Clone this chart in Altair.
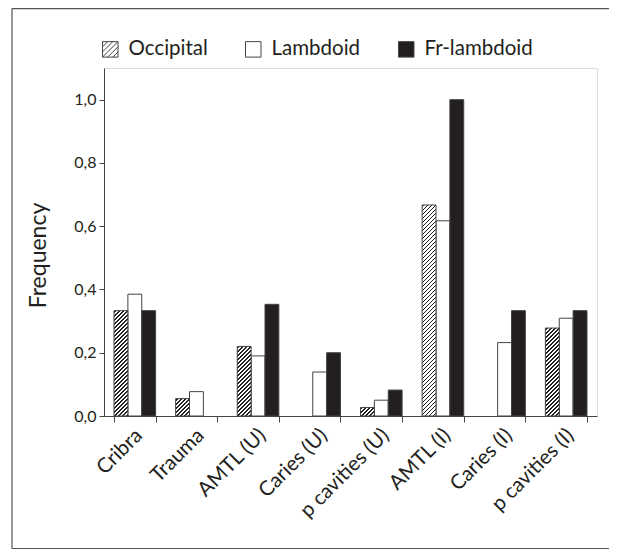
import altair as alt
import pandas as pd

categories = ["Cribra", "Trauma", "AMTL (U)", "Caries (U)", "p cavities (U)",
              "AMTL (I)", "Caries (I)", "p cavities (I)"]
series_names = ["Occipital", "Lambdoid", "Fr-lambdoid"]
occipital = [0.333, 0.055, 0.220, 0.0, 0.027, 0.667, 0.0, 0.278]
lambdoid = [0.385, 0.077, 0.190, 0.139, 0.050, 0.617, 0.232, 0.309]
fr_lambdoid = [0.333, 0.0, 0.353, 0.200, 0.082, 1.000, 0.333, 0.333]
y_ticks = [0.0, 0.2, 0.4, 0.6, 0.8, 1.0]

rows = []
for name, vals in zip(series_names, [occipital, lambdoid, fr_lambdoid]):
    for c, v in zip(categories, vals):
        rows.append({"cat": c, "series": name, "value": v})
df = pd.DataFrame(rows)

W, H = 493, 348
YMAX = 1.1
FONT = "Lato"
INK = "#231f20"
EDGE = "#444444"
P_IN = 0.325
BAR_W = W / len(categories) * (1 - P_IN) / 3


def hatch_gradient(value):
    """Diagonal '////' hatching for one bar, as a linear gradient in its box."""
    w = BAR_W
    h = value / YMAX * H
    L = w + h
    d2 = w * w + h * h
    period, dark = 4.0, 1.8
    stops = [{"offset": 0, "color": "white"}]
    s = 1.0
    while s < L:
        a = s / L
        b = min(1, (s + dark) / L)
        stops.append({"offset": a, "color": "white"})
        stops.append({"offset": a, "color": "#222222"})
        stops.append({"offset": b, "color": "#222222"})
        stops.append({"offset": b, "color": "white"})
        s += period
    stops.append({"offset": 1, "color": "white"})
    return {"gradient": "linear", "x1": 0, "y1": 0,
            "x2": w * L / d2, "y2": h * L / d2, "stops": stops}


x_enc = alt.X("cat:N", sort=categories, title=None,
              scale=alt.Scale(domain=categories, paddingInner=P_IN,
                              paddingOuter=P_IN / 2),
              axis=alt.Axis(labelAngle=-45, labelAlign="right",
                            labelBaseline="middle", labelFontSize=20.5,
                            labelFont=FONT, labelColor=INK, labelPadding=10,
                            labelOffset=4,
                            tickBand="extent", tickSize=6, tickColor=EDGE,
                            domainColor=EDGE, labelLimit=300))
xo_enc = alt.XOffset("series:N", sort=series_names,
                     scale=alt.Scale(domain=series_names, paddingInner=0,
                                     paddingOuter=0))
y_enc = alt.Y("value:Q", title="Frequency",
              scale=alt.Scale(domain=[0, YMAX], nice=False),
              axis=alt.Axis(values=y_ticks, format=".1f",
                            labelExpr="replace(datum.label, '.', ',')",
                            labelFontSize=16, labelFont=FONT, labelColor=INK,
                            tickSize=5, tickColor=EDGE, domainColor=EDGE,
                            grid=False, labelPadding=3,
                            titleFont=FONT, titleFontSize=23,
                            titleFontWeight="normal", titleColor=INK,
                            titleX=-54, titleY=187))

base = alt.Chart(df).encode(x=x_enc, xOffset=xo_enc, y=y_enc)

plain = base.transform_filter("datum.series !== 'Occipital' && datum.value > 0").mark_bar(
    stroke=EDGE, strokeWidth=1
).encode(
    fill=alt.condition("datum.series === 'Fr-lambdoid'", alt.value(INK),
                       alt.value("white"))
)

layers = [plain]
for c, v in zip(categories, occipital):
    if v <= 0:
        continue
    layers.append(
        base.transform_filter(
            f"datum.series === 'Occipital' && datum.cat === '{c}'"
        ).mark_bar(fill=hatch_gradient(v), stroke=EDGE, strokeWidth=1)
    )

hatch_symbol = ("M-1,-1H1V1H-1Z "
                "M-1,-0.33L-0.33,-1 M-1,0.33L0.33,-1 M-1,1L1,-1 "
                "M-0.33,1L1,-0.33 M0.33,1L1,0.33")
legend = alt.Legend(title=None, orient="none", legendX=-4, legendY=-29,
                    direction="horizontal", labelFont=FONT, labelFontSize=20.5,
                    labelColor=INK, symbolSize=240, symbolStrokeWidth=1,
                    symbolOpacity=1, columnPadding=35, labelOffset=8)
legend_layer = base.mark_point(opacity=0, strokeWidth=1).encode(
    fill=alt.Fill("series:N", sort=series_names,
                  scale=alt.Scale(domain=series_names,
                                  range=["white", "white", INK]),
                  legend=legend),
    stroke=alt.Stroke("series:N", sort=series_names,
                      scale=alt.Scale(domain=series_names,
                                      range=[EDGE, EDGE, EDGE]),
                      legend=legend),
    shape=alt.Shape("series:N", sort=series_names,
                    scale=alt.Scale(domain=series_names,
                                    range=[hatch_symbol, "square", "square"]),
                    legend=legend),
)
layers.append(legend_layer)

# figure border (top, left, bottom edges; the right edge lies off the page)
one = alt.Data(values=[{"k": 1}])
border_style = dict(color="#555", strokeWidth=1.2)
frame_top = alt.Chart(one).mark_rule(**border_style).encode(
    x=alt.value(-92), x2=alt.value(520), y=alt.value(-59.4))
frame_left = alt.Chart(one).mark_rule(**border_style).encode(
    x=alt.value(-92), y=alt.value(-59.4), y2=alt.value(480.5))
frame_bottom = alt.Chart(one).mark_rule(**border_style).encode(
    x=alt.value(-92), x2=alt.value(520), y=alt.value(480.5))
layers = [frame_top, frame_left, frame_bottom] + layers

chart = alt.layer(*layers).properties(
    width=W, height=H,
    autosize=alt.AutoSizeParams(type="none"),
    padding={"left": 96, "top": 60, "right": 12, "bottom": 134},
).configure_view(stroke=EDGE, strokeWidth=1).configure(background="white")

chart.save("out.html", embed_options={"renderer": "svg", "actions": False})
